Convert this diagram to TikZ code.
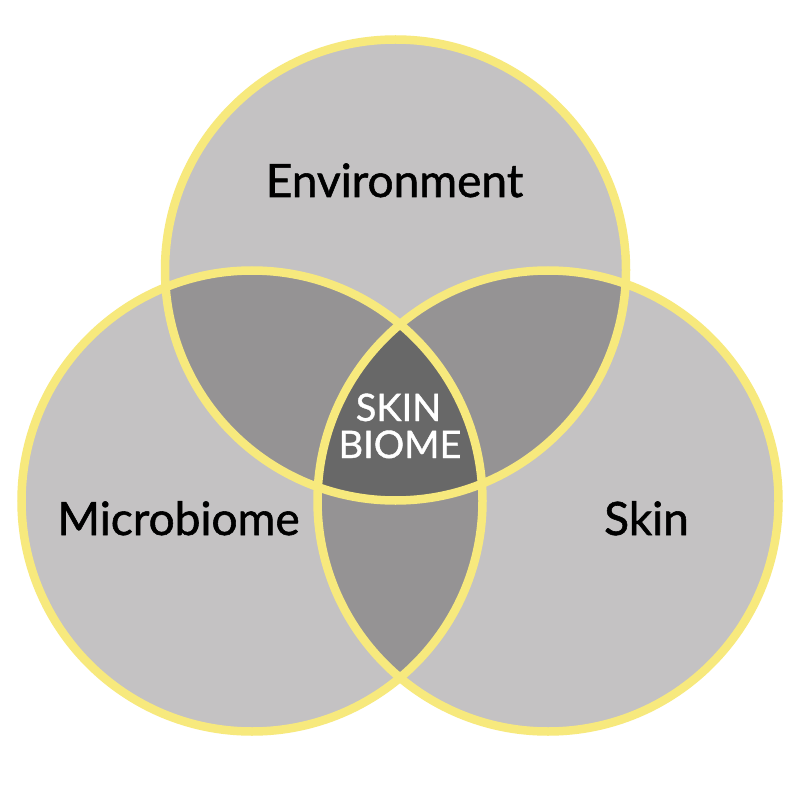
\documentclass[tikz,border=0pt]{standalone}
\usepackage{fontspec}
\setmainfont{Lato}
\newfontfamily\labelfont{Lato}[FakeBold=1.2]
\newfontfamily\centerfont{Lato}[FakeBold=1.0]
\definecolor{ringyellow}{RGB}{247,233,125}
\definecolor{lightgray}{RGB}{196,194,195}
\definecolor{midgray}{RGB}{149,147,148}
\definecolor{darkgray}{RGB}{104,104,104}
\tikzset{
  ring/.style={draw=ringyellow, line width=8.5pt},
  label/.style={anchor=base, inner sep=0pt, font=\labelfont\fontsize{46}{50}\selectfont, text=black},
  centerlabel/.style={anchor=base, inner sep=0pt, font=\centerfont\fontsize{38}{40}\selectfont, text=white}
}
\begin{document}
\begin{tikzpicture}[x=1pt,y=-1pt]
\fill[white] (0,0) rectangle (805,791);
\useasboundingbox (0,0) rectangle (805,791);
\coordinate (T) at (395.5,270);
\coordinate (L) at (252,501);
\coordinate (R) at (548,501);
\def\rad{230.5}
% base fills
\fill[lightgray] (T) circle (\rad);
\fill[lightgray] (L) circle (\rad);
\fill[lightgray] (R) circle (\rad);
% pairwise overlaps
\begin{scope}\clip (T) circle (\rad); \fill[midgray] (L) circle (\rad); \end{scope}
\begin{scope}\clip (T) circle (\rad); \fill[midgray] (R) circle (\rad); \end{scope}
\begin{scope}\clip (L) circle (\rad); \fill[midgray] (R) circle (\rad); \end{scope}
% triple overlap
\begin{scope}\clip (T) circle (\rad); \clip (L) circle (\rad); \fill[darkgray] (R) circle (\rad); \end{scope}
% rings
\draw[ring] (T) circle (\rad);
\draw[ring] (L) circle (\rad);
\draw[ring] (R) circle (\rad);
% labels
\node[label] (env) at (394.5,197) {Environment};
\node[label] (mic) at (178.5,535) {Microbiome};
\node[label] (skin) at (646.5,535) {Skin};
\node[centerlabel] (sk) at (398.5,421) {SKIN};
\node[centerlabel] (bio) at (400,458) {BIOME};
\end{tikzpicture}
\end{document}
